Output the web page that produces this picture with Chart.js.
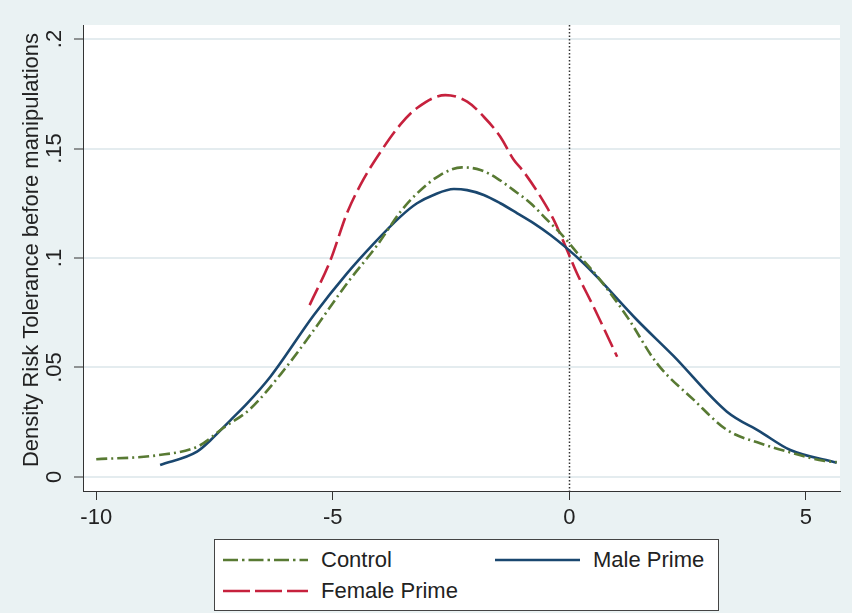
<!DOCTYPE html>
<html>
<head>
<meta charset="utf-8">
<script src="https://cdn.jsdelivr.net/npm/chart.js@4.4.0/dist/chart.umd.min.js"></script>
<style>
  body { margin: 0; background: #eaf2f3; }
  #wrap { position: relative; width: 852px; height: 613px; }
  #legend {
    position: absolute; left: 214px; top: 539px; width: 505px; height: 72px;
    box-sizing: border-box; border: 1px solid #444; background: #fff;
    font: 22px "Liberation Sans", Arial, sans-serif; color: #222;
  }
  .item { position: absolute; display: flex; align-items: center; height: 26px; white-space: nowrap; }
  .item span { margin-left: 13px; }
</style>
</head>
<body>
<div id="wrap">
  <canvas id="myChart" width="852" height="613"></canvas>
  <div id="legend"></div>
</div>
<script>
// Kernel density estimates
const controlX = [-10.0, -8.71, -7.83, -7.31, -6.75, -6.10, -5.40, -4.70, -4.06, -3.57, -3.22, -2.73, -2.27, -1.88, -1.53, -1.18, -0.82, -0.47, -0.12, 0.23, 0.65, 1.22, 1.85, 2.63, 3.33, 4.03, 4.74, 5.37, 5.65];
const controlY = [0.0081, 0.0099, 0.0142, 0.0225, 0.0310, 0.0470, 0.0671, 0.0884, 0.1059, 0.1211, 0.1295, 0.1379, 0.1414, 0.1402, 0.1364, 0.1310, 0.1250, 0.1174, 0.1097, 0.1006, 0.0900, 0.0732, 0.0519, 0.0352, 0.0215, 0.0154, 0.0108, 0.0074, 0.0068];

const maleX = [-8.65, -7.87, -7.58, -7.16, -6.81, -6.32, -5.40, -4.70, -4.13, -3.57, -3.22, -2.87, -2.44, -2.16, -1.81, -1.46, -1.10, -0.75, -0.40, -0.05, 0.30, 0.58, 1.43, 2.20, 3.33, 4.03, 4.67, 5.65];
const maleY = [0.0055, 0.0116, 0.0169, 0.0260, 0.0336, 0.0458, 0.0740, 0.0930, 0.1067, 0.1189, 0.1250, 0.1288, 0.1315, 0.1310, 0.1288, 0.1250, 0.1204, 0.1158, 0.1105, 0.1044, 0.0976, 0.0915, 0.0717, 0.0553, 0.0298, 0.0207, 0.0123, 0.0065];

const femaleX = [-5.49, -5.05, -4.70, -4.35, -3.99, -3.57, -3.22, -2.62, -2.16, -1.81, -1.46, -1.18, -0.97, -0.61, -0.33, -0.05, 0.16, 0.51, 1.01];
const femaleY = [0.0785, 0.0990, 0.1205, 0.1360, 0.1485, 0.1610, 0.1685, 0.1744, 0.1714, 0.1645, 0.1554, 0.1450, 0.1395, 0.1280, 0.1174, 0.1037, 0.0930, 0.0778, 0.0549];

const seriesNames = ['Control', 'Male Prime', 'Female Prime'];

// Axis ticks and titles
const xTicks = [-10, -5, 0, 5];
const xTickLabels = ['-10', '-5', '0', '5'];
const yTicks = [0, 0.05, 0.1, 0.15, 0.2];
const yTickLabels = ['0', '.05', '.1', '.15', '.2'];
const yTitle = 'Density Risk Tolerance before manipulations';
const refLineX = 0;

const fontFamily = '"Liberation Sans", Arial, sans-serif';
const textColor = '#222';

const toPoints = (xs, ys) => xs.map((x, i) => ({ x: x, y: ys[i] }));

// Light blue-gray page with a white plot region
const background = {
    id: 'background',
    beforeDraw(chart) {
        const { ctx, chartArea: a } = chart;
        ctx.save();
        ctx.fillStyle = '#eaf2f3';
        ctx.fillRect(0, 0, chart.width, chart.height);
        ctx.fillStyle = '#ffffff';
        ctx.fillRect(a.left, a.top, a.right - a.left, a.bottom - a.top);
        ctx.restore();
    }
};

// Dotted vertical line at x = 0
const zeroLine = {
    id: 'zeroLine',
    beforeDatasetsDraw(chart) {
        const { ctx, chartArea: a, scales } = chart;
        const px = Math.round(scales.x.getPixelForValue(refLineX)) + 0.5;
        ctx.save();
        ctx.strokeStyle = '#333';
        ctx.lineWidth = 1.5;
        ctx.setLineDash([1.5, 2]);
        ctx.beginPath();
        ctx.moveTo(px, a.top);
        ctx.lineTo(px, a.bottom);
        ctx.stroke();
        ctx.restore();
    }
};

// Y axis title, placed a little above the centre as in the original
const yAxisTitle = {
    id: 'yAxisTitle',
    afterDraw(chart) {
        const { ctx, chartArea: a } = chart;
        ctx.save();
        ctx.translate(32, (a.top + a.bottom) / 2 - 8);
        ctx.rotate(-Math.PI / 2);
        ctx.font = '22px ' + fontFamily;
        ctx.fillStyle = textColor;
        ctx.textAlign = 'center';
        ctx.textBaseline = 'middle';
        ctx.fillText(yTitle, 0, 0);
        ctx.restore();
    }
};

const styles = [
    { color: '#587a33', dash: [11, 4, 2, 4], legendDash: '15 4 2.5 4' },
    { color: '#1a476f', dash: [], legendDash: '' },
    { color: '#c6213d', dash: [19, 6], legendDash: '27 5' }
];

const ctx = document.getElementById('myChart').getContext('2d');

const chart = new Chart(ctx, {
    type: 'scatter',
    data: {
        datasets: [
            { label: seriesNames[0], data: toPoints(controlX, controlY) },
            { label: seriesNames[1], data: toPoints(maleX, maleY) },
            { label: seriesNames[2], data: toPoints(femaleX, femaleY) }
        ].map((d, i) => Object.assign(d, {
            showLine: true,
            borderColor: styles[i].color,
            borderWidth: 2.6,
            borderDash: styles[i].dash,
            pointRadius: 0,
            cubicInterpolationMode: 'monotone',
            fill: false
        }))
    },
    options: {
        responsive: false,
        devicePixelRatio: 1,
        animation: false,
        layout: { padding: { left: 13, right: 12, top: 25, bottom: 0 } },
        plugins: { legend: { display: false }, tooltip: { enabled: false } },
        scales: {
            x: {
                type: 'linear',
                min: -10.28,
                max: 5.72,
                afterBuildTicks: s => { s.ticks = xTicks.map(v => ({ value: v })); },
                afterFit: s => { s.height = 122; },
                ticks: {
                    font: { family: fontFamily, size: 22 },
                    color: textColor,
                    padding: 5,
                    maxRotation: 0,
                    callback: v => xTickLabels[xTicks.indexOf(v)]
                },
                grid: { drawOnChartArea: false, tickLength: 9, tickColor: '#333', tickWidth: 1 },
                border: { display: true, color: '#333', width: 1 }
            },
            y: {
                type: 'linear',
                min: -0.0064,
                max: 0.2064,
                afterBuildTicks: s => { s.ticks = yTicks.map(v => ({ value: v })); },
                afterFit: s => { s.width = 70; },
                ticks: {
                    font: { family: fontFamily, size: 22 },
                    color: textColor,
                    padding: 4,
                    minRotation: 90,
                    maxRotation: 90,
                    crossAlign: 'center',
                    callback: v => yTickLabels[yTicks.indexOf(v)]
                },
                grid: { color: '#e4ecef', lineWidth: 2, tickLength: 9, tickColor: '#333', tickWidth: 1 },
                border: { display: true, color: '#333', width: 1 }
            }
        }
    },
    plugins: [background, zeroLine, yAxisTitle]
});

// Legend box in the style of the original
const legendPos = [
    { left: 8, top: 7 },
    { left: 280, top: 7 },
    { left: 8, top: 38 }
];
const legend = document.getElementById('legend');
seriesNames.forEach((name, i) => {
    const item = document.createElement('div');
    item.className = 'item';
    item.style.left = legendPos[i].left + 'px';
    item.style.top = legendPos[i].top + 'px';
    item.innerHTML =
        '<svg width="85" height="6"><line x1="0" y1="3" x2="85" y2="3" stroke="' + styles[i].color +
        '" stroke-width="2.6" stroke-dasharray="' + styles[i].legendDash + '"/></svg><span>' + name + '</span>';
    legend.appendChild(item);
});
</script>
</body>
</html>
